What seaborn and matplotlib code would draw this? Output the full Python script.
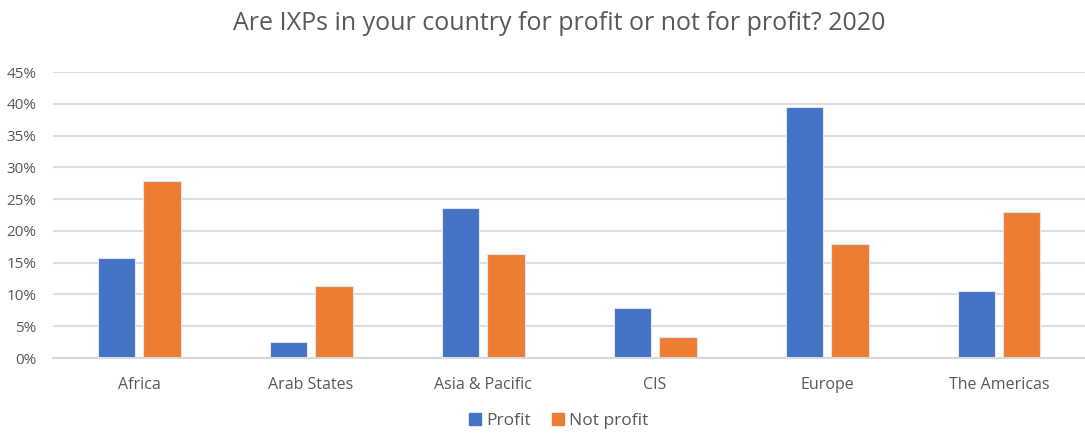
import numpy as np
import pandas as pd
import matplotlib
matplotlib.use("Agg")
from matplotlib import pyplot as plt
from matplotlib.ticker import PercentFormatter
import seaborn as sns

regions = ["Africa", "Arab States", "Asia & Pacific", "CIS", "Europe", "The Americas"]
profit = [15.8, 2.6, 23.6, 7.8, 39.5, 10.5]
not_profit = [27.8, 11.3, 16.4, 3.3, 17.9, 23.0]
series = ["Profit", "Not profit"]
colors = ["#4472C4", "#ED7D31"]

df = pd.DataFrame({
    "region": regions * 2,
    "share": profit + not_profit,
    "type": [series[0]] * len(regions) + [series[1]] * len(regions),
})

sns.set_style("white")
plt.rcParams["font.family"] = ["Open Sans", "DejaVu Sans"]

fig = plt.figure(figsize=(10.85, 4.34), dpi=100)
ax = fig.add_axes([0.049, 0.175, 0.951, 0.659])

sns.barplot(data=df, x="region", y="share", hue="type", palette=colors,
            width=0.53, gap=0.18, ax=ax, legend=False, saturation=1,
            linewidth=0.8, edgecolor="#dfe6f3")

ax.set_ylim(0, 45)
ax.set_yticks(np.arange(0, 46, 5))
ax.yaxis.set_major_formatter(PercentFormatter(decimals=0))
ax.grid(axis="y", color="#dedede", linewidth=1.5)
ax.set_axisbelow(True)
for s in ["top", "right", "left"]:
    ax.spines[s].set_visible(False)
ax.spines["bottom"].set_color("#d9d9d9")
ax.spines["bottom"].set_linewidth(1.5)
ax.set_xlabel("")
ax.set_ylabel("")
ax.tick_params(axis="y", length=0, colors="#595959", labelsize=11, pad=12)
ax.tick_params(axis="x", length=0, colors="#595959", labelsize=11.5, pad=14)
ax.set_xlim(-0.5, 5.5)

fig.suptitle("Are IXPs in your country for profit or not for profit? 2020",
             x=0.515, y=0.975, fontsize=18, color="#595959")

handles = [plt.Rectangle((0, 0), 1, 1, color=c) for c in colors]
fig.legend(handles, series, loc="lower center", bbox_to_anchor=(0.515, -0.025),
           ncol=2, frameon=False, fontsize=12.5, labelcolor="#595959",
           handlelength=0.7, handleheight=0.7, handletextpad=0.3, columnspacing=1.2)

fig.savefig("out.png", dpi=100)
